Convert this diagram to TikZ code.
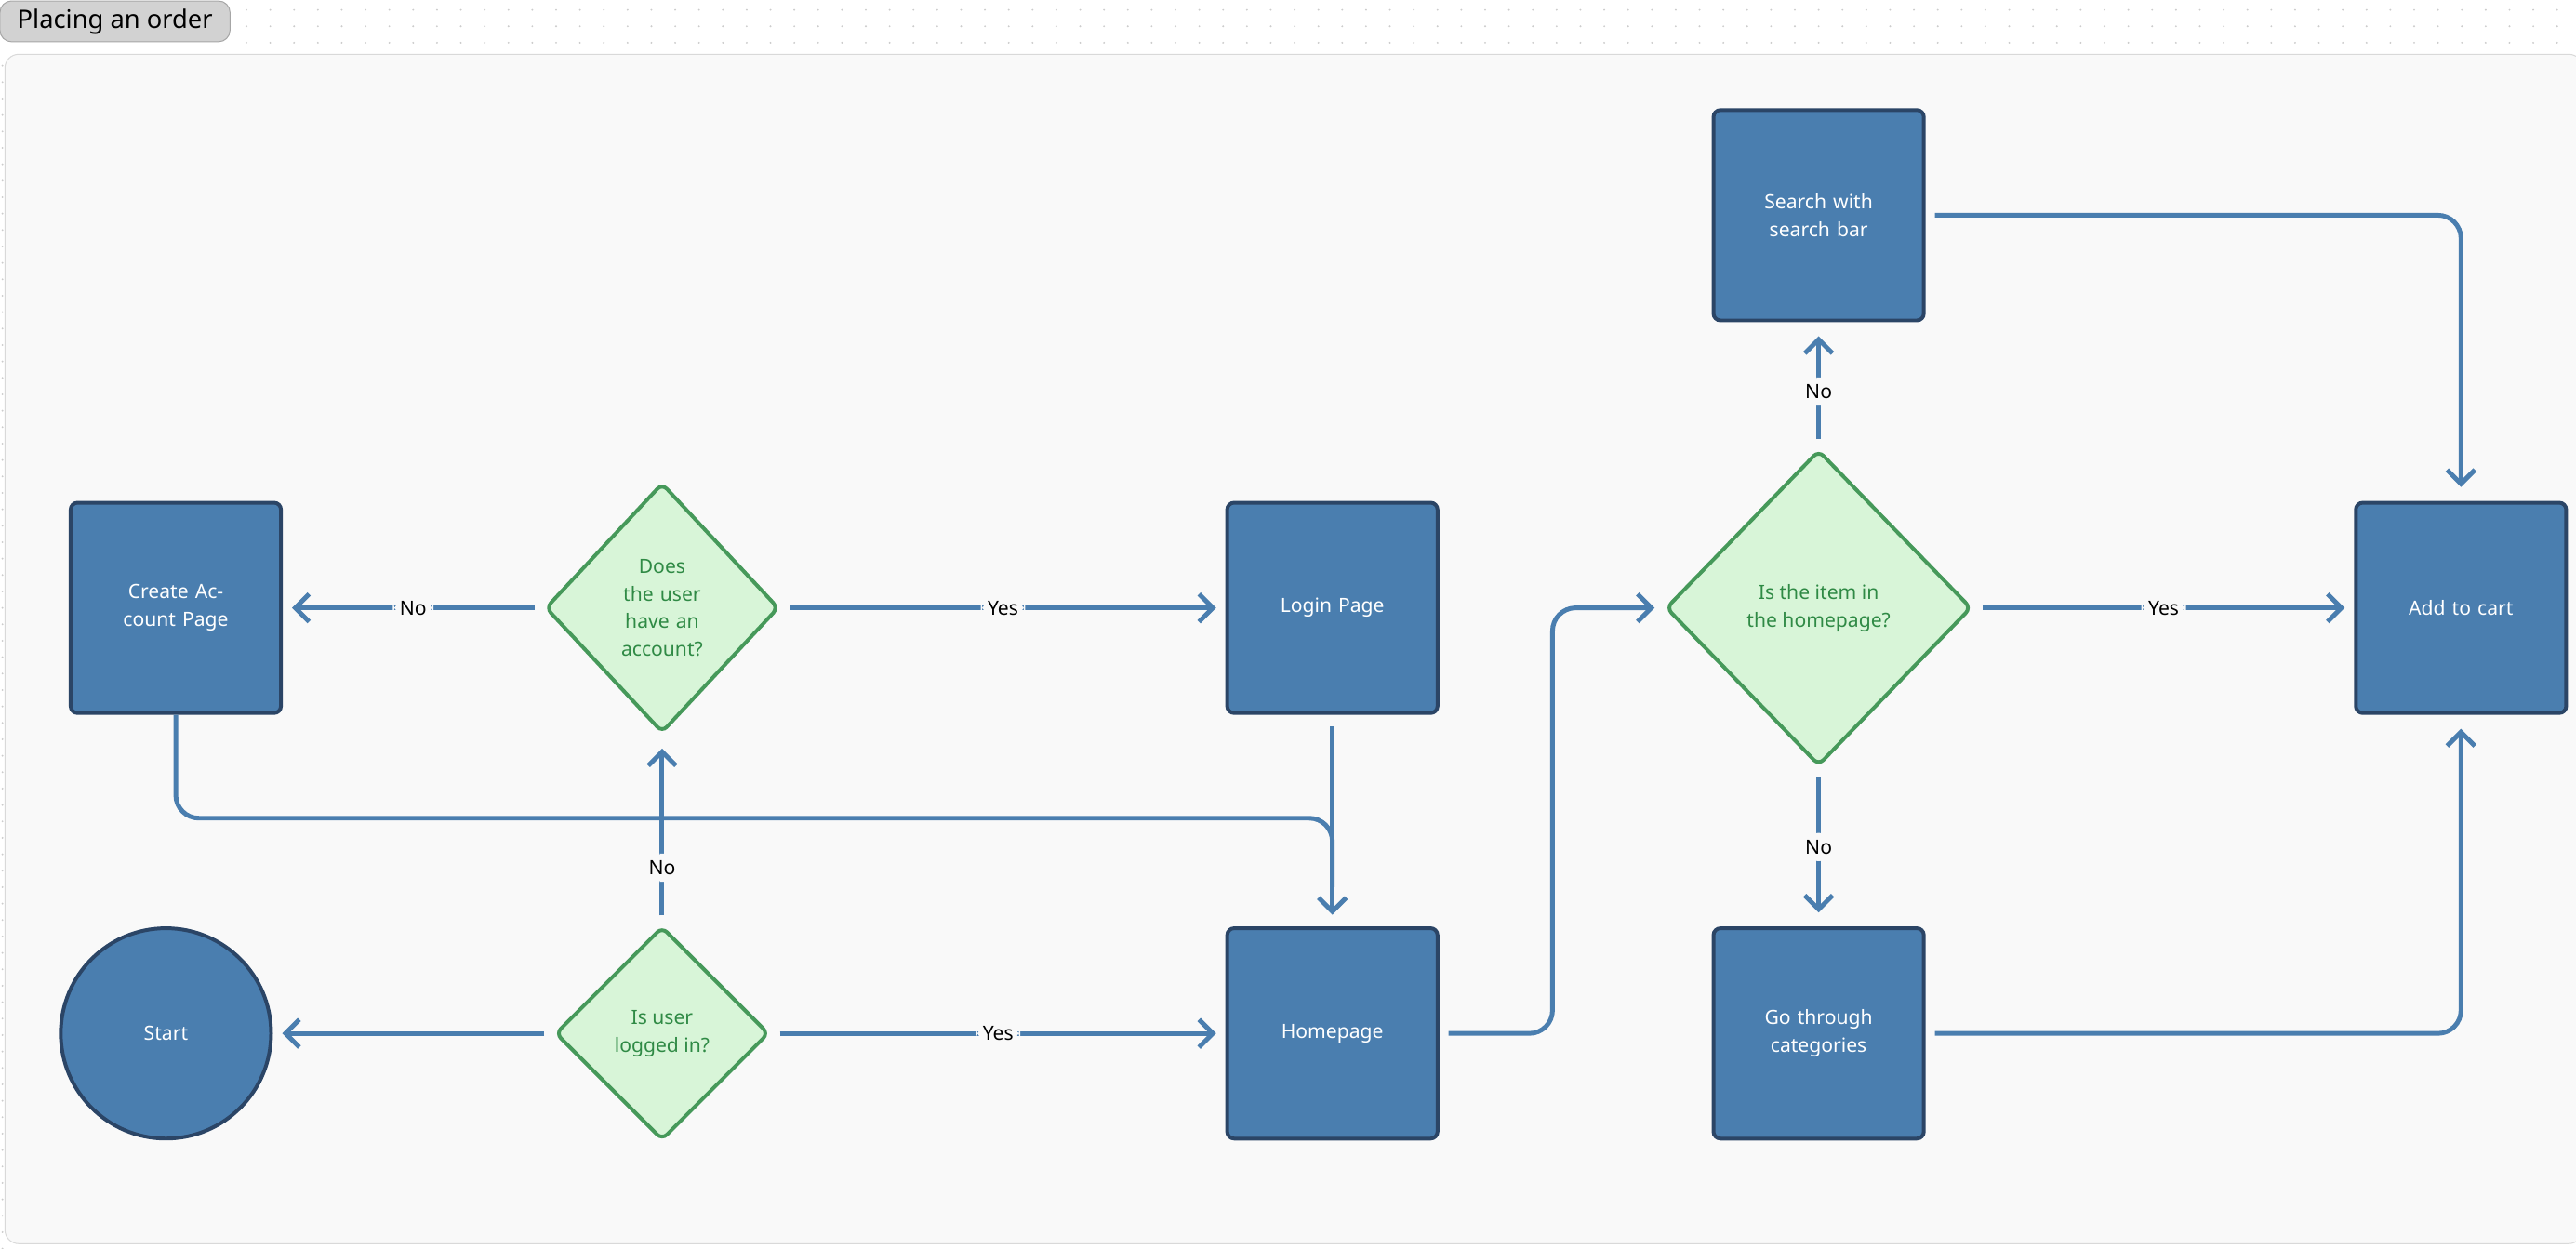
\documentclass[tikz,border=0pt]{standalone}
\usepackage{fontspec}
\setmainfont{Noto Sans}
\usetikzlibrary{shapes.geometric,arrows.meta}
\definecolor{boxblue}{HTML}{4A7EAF}
\definecolor{boxedge}{HTML}{2B4566}
\definecolor{decfill}{HTML}{D8F5D8}
\definecolor{decedge}{HTML}{46995A}
\definecolor{dectext}{HTML}{2F8A45}
\definecolor{panel}{HTML}{F9F9F9}
\tikzset{
  process/.style={draw=boxedge,fill=boxblue,line width=1.6pt,rounded corners=3pt,
    minimum width=3.2cm,minimum height=3.2cm,text width=2.6cm,align=center,
    text=white,font=\fontsize{8.5}{12}\selectfont},
  decision/.style={diamond,draw=decedge,fill=decfill,line width=1.6pt,rounded corners=3pt,
    inner sep=0pt,align=center,text=dectext,font=\fontsize{8.5}{12}\selectfont},
  flow/.style={draw=boxblue,line width=2pt,rounded corners=10pt,
    -{Straight Barb[length=6pt,width=12pt,line width=2pt]}},
  lbl/.style={fill=panel,inner sep=3pt,font=\fontsize{8.5}{10}\selectfont}
}
\begin{document}
\begin{tikzpicture}[x=0.025cm,y=-0.025cm]
\useasboundingbox (0,0) rectangle (1568,760);
% background
\fill[white] (0,0) rectangle (1568,760);
\foreach \i in {0,...,97}{\foreach \j in {0,...,2}{
  \fill[gray!40] (150+\i*14.5,6+\j*10) circle[radius=0.6];}}
\foreach \i in {0,...,73}{\fill[gray!40] (1.5,40+\i*10) circle[radius=0.6];}
\draw[gray!30,fill=panel,rounded corners=6pt] (3,33) rectangle (1572,757);
\node[draw=gray!70,fill=gray!35,rounded corners=5pt,minimum width=3.5cm,minimum height=0.55cm,
  font=\fontsize{11}{13}\selectfont] (title) at (70,13) {Placing an order};

% nodes
\node[circle,draw=boxedge,fill=boxblue,line width=1.6pt,minimum size=3.2cm,
  text=white,font=\fontsize{8.5}{12}\selectfont] (start) at (101,629) {Start};
\node[decision,minimum width=3.25cm,minimum height=3.25cm] (logged) at (403,629) {Is user\\logged in?};
\node[process] (home) at (811,629) {Homepage};
\node[decision,minimum width=3.55cm,minimum height=3.8cm,text width=1.6cm] (account) at (403,370) {Does the user have an account?};
\node[process] (create) at (107,370) {Create Account Page};
\node[process] (login) at (811,370) {Login Page};
\node[decision,minimum width=4.65cm,minimum height=4.8cm] (item) at (1107,370) {Is the item in\\the homepage?};
\node[process] (search) at (1107,131) {Search with search bar};
\node[process] (cats) at (1107,629) {Go through categories};
\node[process] (cart) at (1498,370) {Add to cart};

% connectors
\draw[flow,shorten <=4pt,shorten >=4pt] (logged) -- node[lbl] {Yes} (home);
\draw[flow,shorten <=4pt,shorten >=4pt] (logged) -- (start);
\draw[flow,shorten <=4pt,shorten >=6pt] (logged) -- node[lbl,pos=0.3] {No} (account);
\draw[flow,shorten <=4pt,shorten >=4pt] (account) -- node[lbl] {No} (create);
\draw[flow,shorten <=4pt,shorten >=4pt] (account) -- node[lbl] {Yes} (login);
\draw[flow,-] (create.south) -- (107,498) -- (811,498) -- (811,540);
\draw[flow,shorten <=5pt,shorten >=5pt] (login) -- (home);
\draw[flow,shorten <=4pt,shorten >=4pt] (home.east) -- (945,629) -- (945,370) -- (item.west);
\draw[flow,shorten <=4pt,shorten >=6pt] (item) -- node[lbl,pos=0.45] {No} (search);
\draw[flow,shorten <=4pt,shorten >=6pt] (item) -- node[lbl,pos=0.5] {No} (cats);
\draw[flow,shorten <=4pt,shorten >=4pt] (item) -- node[lbl] {Yes} (cart);
\draw[flow,shorten <=4pt,shorten >=6pt] (search.east) -| (cart.north);
\draw[flow,shorten <=4pt,shorten >=6pt] (cats.east) -| (cart.south);
\end{tikzpicture}
\end{document}
